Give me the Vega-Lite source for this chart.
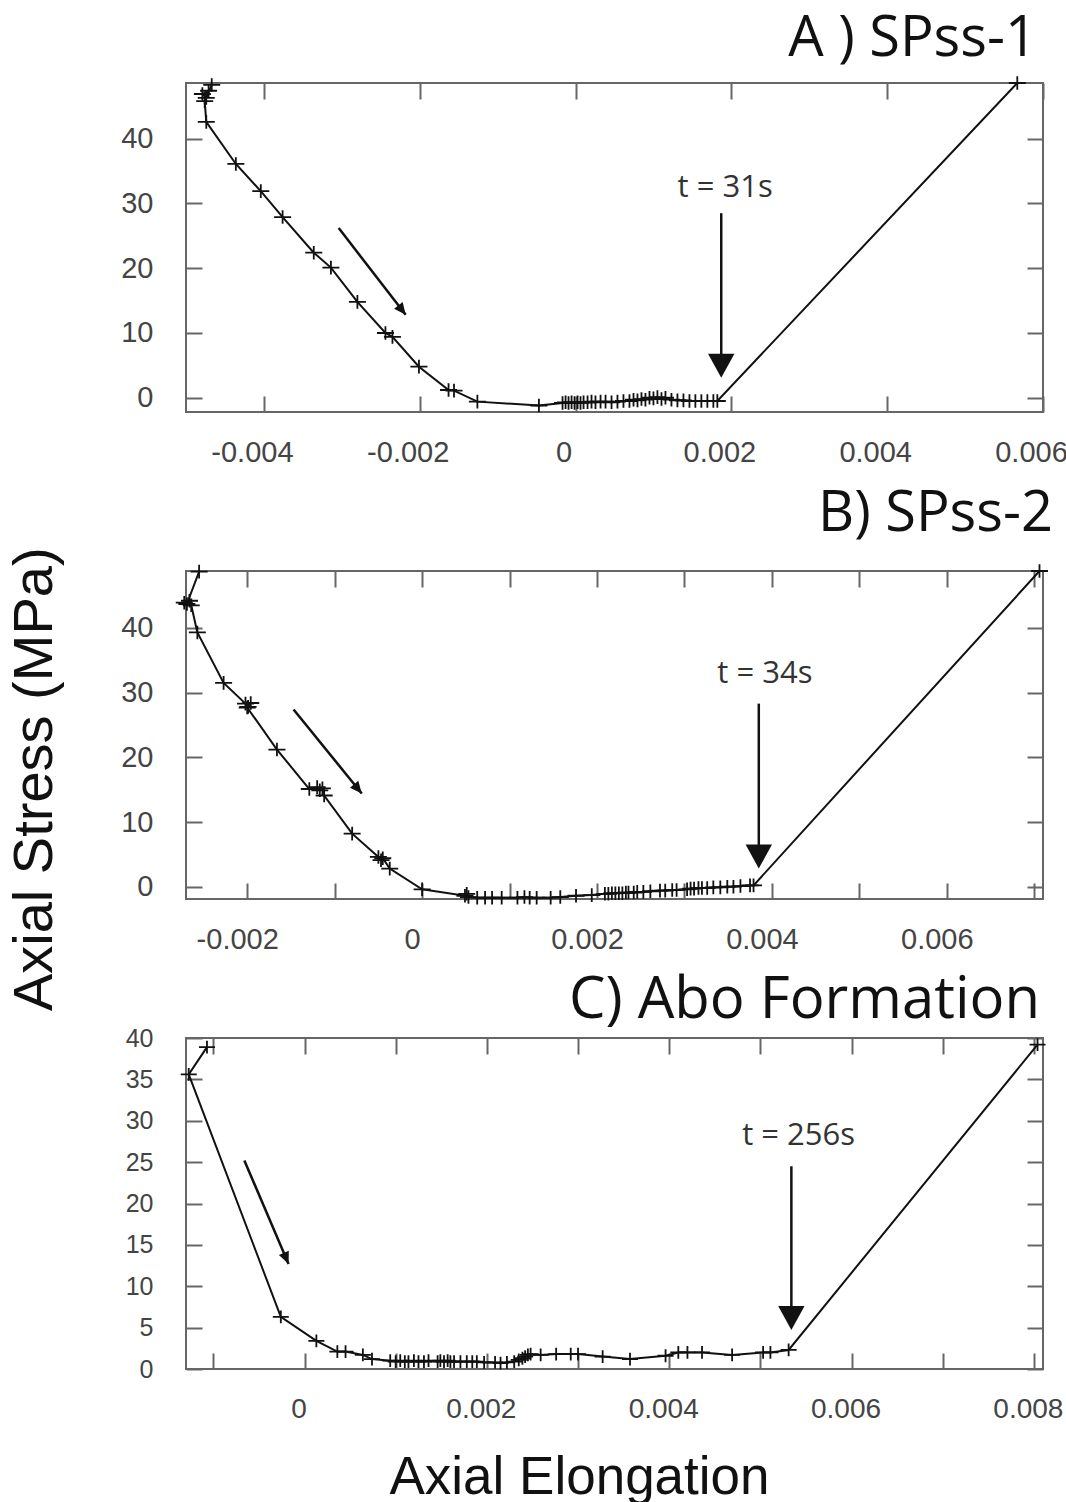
{
  "$schema": "https://vega.github.io/schema/vega-lite/v6.json",
  "background": "white",
  "padding": {"left": 6, "top": 9, "right": 0, "bottom": 0},
  "spacing": 16,
  "title": {"text": "Axial Stress (MPa)", "orient": "left", "anchor": "middle", "frame": "bounds", "font": "Liberation Sans", "fontSize": 56, "fontWeight": "normal", "color": "#111", "offset": 56, "dx": -22},
  "config": {
    "view": {"stroke": "#666", "strokeWidth": 2},
    "axis": {"grid": false, "domain": false, "tickSize": -16, "tickColor": "#666", "tickWidth": 2, "labelFont": "Liberation Sans", "labelFontSize": 29, "labelColor": "#444", "titleFont": "Liberation Sans", "titleFontSize": 53, "titleColor": "#111", "titleFontWeight": "normal"},
    "title": {"font": "Open Sans", "fontSize": 56, "fontWeight": "normal", "anchor": "end", "color": "#111"}
  },
  "datasets": {
    "a": [
      {"i":1,"x":-0.00467,"y":48.3},{"i":2,"x":-0.00474,"y":46.3},{"i":3,"x":-0.00479,"y":46.9},{"i":4,"x":-0.00471,"y":47.4},{"i":5,"x":-0.00476,"y":45.8},{"i":6,"x":-0.00474,"y":42.6},{"i":7,"x":-0.00436,"y":36.1},{"i":8,"x":-0.00404,"y":31.9},{"i":9,"x":-0.00376,"y":27.9},{"i":10,"x":-0.00336,"y":22.4},{"i":11,"x":-0.00314,"y":20.1},{"i":12,"x":-0.0028,"y":14.8},{"i":13,"x":-0.00244,"y":10.0},{"i":14,"x":-0.00235,"y":9.4},{"i":15,"x":-0.00201,"y":4.8},{"i":16,"x":-0.00163,"y":1.2},{"i":17,"x":-0.00156,"y":1.1},{"i":18,"x":-0.00126,"y":-0.6},{"i":19,"x":-0.00047,"y":-1.2},{"i":20,"x":-0.000167,"y":-0.8},{"i":21,"x":-0.000128,"y":-0.7},{"i":22,"x":-0.00009,"y":-0.8},{"i":23,"x":-0.000051,"y":-0.7},{"i":24,"x":-0.000013,"y":-0.8},{"i":25,"x":0.000026,"y":-0.7},{"i":26,"x":0.000064,"y":-0.8},{"i":27,"x":0.000103,"y":-0.7},{"i":28,"x":0.000154,"y":-0.7},{"i":29,"x":0.000205,"y":-0.6},{"i":30,"x":0.000256,"y":-0.7},{"i":31,"x":0.000321,"y":-0.6},{"i":32,"x":0.000385,"y":-0.6},{"i":33,"x":0.000462,"y":-0.7},{"i":34,"x":0.000538,"y":-0.6},{"i":35,"x":0.000615,"y":-0.5},{"i":36,"x":0.000692,"y":-0.5},{"i":37,"x":0.000744,"y":-0.3},{"i":38,"x":0.000795,"y":-0.4},{"i":39,"x":0.000846,"y":-0.2},{"i":40,"x":0.000897,"y":-0.3},{"i":41,"x":0.000949,"y":0.0},{"i":42,"x":0.001,"y":-0.1},{"i":43,"x":0.001051,"y":0.1},{"i":44,"x":0.001103,"y":-0.2},{"i":45,"x":0.001154,"y":0.0},{"i":46,"x":0.001231,"y":-0.3},{"i":47,"x":0.001308,"y":-0.4},{"i":48,"x":0.001385,"y":-0.4},{"i":49,"x":0.001462,"y":-0.5},{"i":50,"x":0.001538,"y":-0.5},{"i":51,"x":0.001615,"y":-0.5},{"i":52,"x":0.001692,"y":-0.5},{"i":53,"x":0.001769,"y":-0.5},{"i":54,"x":0.00182,"y":-0.5},{"i":55,"x":0.00567,"y":48.6}
    ],
    "b": [
      {"i":1,"x":-0.00255,"y":48.7},{"i":2,"x":-0.00269,"y":43.7},{"i":3,"x":-0.00266,"y":44.2},{"i":4,"x":-0.00272,"y":43.9},{"i":5,"x":-0.00264,"y":43.5},{"i":6,"x":-0.00257,"y":39.3},{"i":7,"x":-0.00227,"y":31.5},{"i":8,"x":-0.00202,"y":28.3},{"i":9,"x":-0.00199,"y":27.8},{"i":10,"x":-0.00196,"y":28.4},{"i":11,"x":-0.002,"y":27.7},{"i":12,"x":-0.00166,"y":21.2},{"i":13,"x":-0.00129,"y":15.1},{"i":14,"x":-0.0012,"y":15.4},{"i":15,"x":-0.00117,"y":14.9},{"i":16,"x":-0.00114,"y":15.2},{"i":17,"x":-0.00112,"y":14.1},{"i":18,"x":-0.0008,"y":8.2},{"i":19,"x":-0.0005,"y":4.6},{"i":20,"x":-0.00047,"y":4.1},{"i":21,"x":-0.00045,"y":4.4},{"i":22,"x":-0.00037,"y":2.8},{"i":23,"x":0.0,"y":-0.4},{"i":24,"x":0.00049,"y":-1.4},{"i":25,"x":0.00051,"y":-1.1},{"i":26,"x":0.00053,"y":-1.6},{"i":27,"x":0.00063,"y":-1.7},{"i":28,"x":0.00072,"y":-1.7},{"i":29,"x":0.0008,"y":-1.7},{"i":30,"x":0.00091,"y":-1.7},{"i":31,"x":0.00109,"y":-1.7},{"i":32,"x":0.00117,"y":-1.6},{"i":33,"x":0.00123,"y":-1.7},{"i":34,"x":0.00131,"y":-1.7},{"i":35,"x":0.00147,"y":-1.7},{"i":36,"x":0.00158,"y":-1.6},{"i":37,"x":0.00176,"y":-1.4},{"i":38,"x":0.00194,"y":-1.3},{"i":39,"x":0.00209,"y":-1.1},{"i":40,"x":0.00213,"y":-1.1},{"i":41,"x":0.00217,"y":-1.0},{"i":42,"x":0.00221,"y":-1.0},{"i":43,"x":0.00225,"y":-1.0},{"i":44,"x":0.00229,"y":-1.0},{"i":45,"x":0.00233,"y":-0.9},{"i":46,"x":0.00236,"y":-0.9},{"i":47,"x":0.00242,"y":-0.9},{"i":48,"x":0.00246,"y":-0.8},{"i":49,"x":0.00253,"y":-0.8},{"i":50,"x":0.00261,"y":-0.7},{"i":51,"x":0.00272,"y":-0.6},{"i":52,"x":0.00278,"y":-0.6},{"i":53,"x":0.00286,"y":-0.5},{"i":54,"x":0.00291,"y":-0.5},{"i":55,"x":0.00303,"y":-0.4},{"i":56,"x":0.00307,"y":-0.3},{"i":57,"x":0.00311,"y":-0.3},{"i":58,"x":0.00316,"y":-0.2},{"i":59,"x":0.0032,"y":-0.2},{"i":60,"x":0.00326,"y":-0.2},{"i":61,"x":0.00333,"y":-0.1},{"i":62,"x":0.00341,"y":-0.1},{"i":63,"x":0.00349,"y":0.0},{"i":64,"x":0.00356,"y":0.0},{"i":65,"x":0.00364,"y":0.1},{"i":66,"x":0.00375,"y":0.2},{"i":67,"x":0.00379,"y":0.2},{"i":68,"x":0.00706,"y":48.8}
    ],
    "c": [
      {"i":1,"x":-0.00107,"y":38.9},{"i":2,"x":-0.00127,"y":35.6},{"i":3,"x":-0.00026,"y":6.3},{"i":4,"x":0.00013,"y":3.4},{"i":5,"x":0.00036,"y":2.1},{"i":6,"x":0.00045,"y":2.1},{"i":7,"x":0.00064,"y":1.7},{"i":8,"x":0.00074,"y":1.2},{"i":9,"x":0.00094,"y":1.0},{"i":10,"x":0.001,"y":0.9},{"i":11,"x":0.00105,"y":1.0},{"i":12,"x":0.0011,"y":0.9},{"i":13,"x":0.00114,"y":0.9},{"i":14,"x":0.0012,"y":1.0},{"i":15,"x":0.00125,"y":0.9},{"i":16,"x":0.00131,"y":0.9},{"i":17,"x":0.00136,"y":1.0},{"i":18,"x":0.00146,"y":0.9},{"i":19,"x":0.00149,"y":1.0},{"i":20,"x":0.00153,"y":0.9},{"i":21,"x":0.00157,"y":1.0},{"i":22,"x":0.0016,"y":0.9},{"i":23,"x":0.00164,"y":0.9},{"i":24,"x":0.00171,"y":0.9},{"i":25,"x":0.00178,"y":0.9},{"i":26,"x":0.00184,"y":0.9},{"i":27,"x":0.00189,"y":0.9},{"i":28,"x":0.00197,"y":0.8},{"i":29,"x":0.00209,"y":0.8},{"i":30,"x":0.00215,"y":0.7},{"i":31,"x":0.00222,"y":0.8},{"i":32,"x":0.0023,"y":0.9},{"i":33,"x":0.00235,"y":1.1},{"i":34,"x":0.00239,"y":1.3},{"i":35,"x":0.00242,"y":1.5},{"i":36,"x":0.00245,"y":1.7},{"i":37,"x":0.00248,"y":1.8},{"i":38,"x":0.00259,"y":1.7},{"i":39,"x":0.00276,"y":1.8},{"i":40,"x":0.00292,"y":1.8},{"i":41,"x":0.003,"y":1.8},{"i":42,"x":0.00327,"y":1.5},{"i":43,"x":0.00357,"y":1.2},{"i":44,"x":0.00396,"y":1.6},{"i":45,"x":0.0041,"y":2.0},{"i":46,"x":0.0042,"y":2.0},{"i":47,"x":0.00436,"y":2.0},{"i":48,"x":0.00469,"y":1.7},{"i":49,"x":0.00503,"y":2.0},{"i":50,"x":0.00511,"y":2.0},{"i":51,"x":0.00531,"y":2.3},{"i":52,"x":0.00804,"y":39.2}
    ]
  },
  "vconcat": [
    {
      "width": 857, "height": 329,
      "title": {"text": "A ) SPss-1", "offset": 5, "dx": -6, "frame": "group"},
      "resolve": {"axis": {"x": "independent", "y": "independent"}},
      "layer": [
        {"data": {"name": "a"}, "mark": {"type": "line", "color": "#111", "strokeWidth": 2},
         "encoding": {
           "x": {"field": "x", "type": "quantitative", "scale": {"domain": [-0.005, 0.006], "nice": false, "zero": false}, "axis": {"orient": "bottom", "title": null, "values": [-0.004, -0.002, 0, 0.002, 0.004, 0.006], "labelPadding": 42, "labelOffset": -12, "labelFlush": false, "labelExpr": "datum.value == 0 ? '0' : replace(format(datum.value, '.3f'), '\u2212', '-')"}},
           "y": {"field": "y", "type": "quantitative", "scale": {"domain": [-2.2, 48.6], "nice": false, "zero": false}, "axis": {"orient": "left", "title": null, "values": [0, 10, 20, 30, 40], "labelPadding": 49}},
           "order": {"field": "i", "type": "quantitative"}}},
        {"data": {"name": "a"}, "mark": {"type": "point", "shape": "M-1,0L1,0M0,-0.8L0,0.8", "filled": false, "color": "#111", "strokeWidth": 1.8, "size": 289, "opacity": 1},
         "encoding": {
           "x": {"field": "x", "type": "quantitative", "scale": {"domain": [-0.005, 0.006], "nice": false, "zero": false}, "axis": {"orient": "top", "title": null, "labels": false, "values": [-0.004, -0.002, 0, 0.002, 0.004, 0.006]}},
           "y": {"field": "y", "type": "quantitative", "scale": {"domain": [-2.2, 48.6], "nice": false, "zero": false}, "axis": {"orient": "right", "title": null, "labels": false, "values": [0, 10, 20, 30, 40]}}}},
        {"data": {"values": [{"x": 0.00187, "y": 28.5, "x2": 0.00187, "y2": 6.0}, {"x": -0.00304, "y": 26.2, "x2": -0.00218, "y2": 12.8}]},
         "mark": {"type": "rule", "color": "#111", "strokeWidth": 2.5},
         "encoding": {
           "x": {"field": "x", "type": "quantitative", "scale": {"domain": [-0.005, 0.006], "nice": false, "zero": false}, "axis": null},
           "y": {"field": "y", "type": "quantitative", "scale": {"domain": [-2.2, 48.6], "nice": false, "zero": false}, "axis": null},
           "x2": {"field": "x2"}, "y2": {"field": "y2"}}},
        {"data": {"values": [{"x": 0.00187, "y": 3.1}]},
         "mark": {"type": "point", "shape": "M0,0L-0.55,-1L0.55,-1Z", "filled": true, "color": "#111", "size": 2304, "opacity": 1},
         "encoding": {
           "x": {"field": "x", "type": "quantitative", "scale": {"domain": [-0.005, 0.006], "nice": false, "zero": false}, "axis": null},
           "y": {"field": "y", "type": "quantitative", "scale": {"domain": [-2.2, 48.6], "nice": false, "zero": false}, "axis": null}}},
        {"data": {"values": [{"x": -0.00218, "y": 12.8}]},
         "mark": {"type": "point", "shape": "M0,0L-0.45,-1L0.45,-1Z", "filled": true, "color": "#111", "size": 576, "opacity": 1, "angle": -37.6},
         "encoding": {
           "x": {"field": "x", "type": "quantitative", "scale": {"domain": [-0.005, 0.006], "nice": false, "zero": false}, "axis": null},
           "y": {"field": "y", "type": "quantitative", "scale": {"domain": [-2.2, 48.6], "nice": false, "zero": false}, "axis": null}}},
        {"data": {"values": [{"x": 0.00192, "y": 32.4, "label": "t = 31s"}]},
         "mark": {"type": "text", "font": "Open Sans", "fontSize": 31, "color": "#333", "baseline": "middle", "align": "center"},
         "encoding": {
           "x": {"field": "x", "type": "quantitative", "scale": {"domain": [-0.005, 0.006], "nice": false, "zero": false}, "axis": null},
           "y": {"field": "y", "type": "quantitative", "scale": {"domain": [-2.2, 48.6], "nice": false, "zero": false}, "axis": null},
           "text": {"field": "label"}}}
      ]
    },
    {
      "width": 857, "height": 328,
      "title": {"text": "B) SPss-2", "offset": 18, "dx": 10, "frame": "group"},
      "resolve": {"axis": {"x": "independent", "y": "independent"}},
      "layer": [
        {"data": {"name": "b"}, "mark": {"type": "line", "color": "#111", "strokeWidth": 2},
         "encoding": {
           "x": {"field": "x", "type": "quantitative", "scale": {"domain": [-0.0027, 0.0071], "nice": false, "zero": false}, "axis": {"orient": "bottom", "title": null, "values": [-0.002, -0.001, 0, 0.001, 0.002, 0.003, 0.004, 0.005, 0.006, 0.007], "labelPadding": 42, "labelOffset": -10, "labelExpr": "abs(round(datum.value * 1000)) % 2 == 1 ? '' : datum.value == 0 ? '0' : replace(format(datum.value, '.3f'), '\u2212', '-')"}},
           "y": {"field": "y", "type": "quantitative", "scale": {"domain": [-1.9, 48.8], "nice": false, "zero": false}, "axis": {"orient": "left", "title": null, "values": [0, 10, 20, 30, 40], "labelPadding": 49}},
           "order": {"field": "i", "type": "quantitative"}}},
        {"data": {"name": "b"}, "mark": {"type": "point", "shape": "M-1,0L1,0M0,-0.8L0,0.8", "filled": false, "color": "#111", "strokeWidth": 1.8, "size": 289, "opacity": 1},
         "encoding": {
           "x": {"field": "x", "type": "quantitative", "scale": {"domain": [-0.0027, 0.0071], "nice": false, "zero": false}, "axis": {"orient": "top", "title": null, "labels": false, "values": [-0.002, -0.001, 0, 0.001, 0.002, 0.003, 0.004, 0.005, 0.006, 0.007]}},
           "y": {"field": "y", "type": "quantitative", "scale": {"domain": [-1.9, 48.8], "nice": false, "zero": false}, "axis": {"orient": "right", "title": null, "labels": false, "values": [0, 10, 20, 30, 40]}}}},
        {"data": {"values": [{"x": 0.00385, "y": 28.3, "x2": 0.00385, "y2": 5.8}, {"x": -0.00147, "y": 27.4, "x2": -0.00069, "y2": 14.4}]},
         "mark": {"type": "rule", "color": "#111", "strokeWidth": 2.5},
         "encoding": {
           "x": {"field": "x", "type": "quantitative", "scale": {"domain": [-0.0027, 0.0071], "nice": false, "zero": false}, "axis": null},
           "y": {"field": "y", "type": "quantitative", "scale": {"domain": [-1.9, 48.8], "nice": false, "zero": false}, "axis": null},
           "x2": {"field": "x2"}, "y2": {"field": "y2"}}},
        {"data": {"values": [{"x": 0.00385, "y": 2.8}]},
         "mark": {"type": "point", "shape": "M0,0L-0.55,-1L0.55,-1Z", "filled": true, "color": "#111", "size": 2304, "opacity": 1},
         "encoding": {
           "x": {"field": "x", "type": "quantitative", "scale": {"domain": [-0.0027, 0.0071], "nice": false, "zero": false}, "axis": null},
           "y": {"field": "y", "type": "quantitative", "scale": {"domain": [-1.9, 48.8], "nice": false, "zero": false}, "axis": null}}},
        {"data": {"values": [{"x": -0.00069, "y": 14.4}]},
         "mark": {"type": "point", "shape": "M0,0L-0.45,-1L0.45,-1Z", "filled": true, "color": "#111", "size": 576, "opacity": 1, "angle": -39.4},
         "encoding": {
           "x": {"field": "x", "type": "quantitative", "scale": {"domain": [-0.0027, 0.0071], "nice": false, "zero": false}, "axis": null},
           "y": {"field": "y", "type": "quantitative", "scale": {"domain": [-1.9, 48.8], "nice": false, "zero": false}, "axis": null}}},
        {"data": {"values": [{"x": 0.00392, "y": 32.9, "label": "t = 34s"}]},
         "mark": {"type": "text", "font": "Open Sans", "fontSize": 31, "color": "#333", "baseline": "middle", "align": "center"},
         "encoding": {
           "x": {"field": "x", "type": "quantitative", "scale": {"domain": [-0.0027, 0.0071], "nice": false, "zero": false}, "axis": null},
           "y": {"field": "y", "type": "quantitative", "scale": {"domain": [-1.9, 48.8], "nice": false, "zero": false}, "axis": null},
           "text": {"field": "label"}}}
      ]
    },
    {
      "width": 857, "height": 331,
      "title": {"text": "C) Abo Formation", "offset": -4, "dx": -3, "fontSize": 58, "frame": "group"},
      "resolve": {"axis": {"x": "independent", "y": "independent"}},
      "layer": [
        {"data": {"name": "c"}, "mark": {"type": "line", "color": "#111", "strokeWidth": 2},
         "encoding": {
           "x": {"field": "x", "type": "quantitative", "scale": {"domain": [-0.0013, 0.0081], "nice": false, "zero": false}, "axis": {"orient": "bottom", "title": "Axial Elongation", "values": [-0.001, 0, 0.001, 0.002, 0.003, 0.004, 0.005, 0.006, 0.007, 0.008], "labelPadding": 42, "labelOffset": -6, "labelFontSize": 28, "labelExpr": "abs(round(datum.value * 1000)) % 2 == 1 ? '' : datum.value == 0 ? '0' : replace(format(datum.value, '.3f'), '\u2212', '-')", "titleX": 393, "titleY": 82, "titleBaseline": "top"}},
           "y": {"field": "y", "type": "quantitative", "scale": {"domain": [0, 40], "nice": false, "zero": false}, "axis": {"orient": "left", "title": null, "values": [0, 5, 10, 15, 20, 25, 30, 35, 40], "labelPadding": 49, "labelFontSize": 25}},
           "order": {"field": "i", "type": "quantitative"}}},
        {"data": {"name": "c"}, "mark": {"type": "point", "shape": "M-1,0L1,0M0,-0.8L0,0.8", "filled": false, "color": "#111", "strokeWidth": 1.8, "size": 256, "opacity": 1},
         "encoding": {
           "x": {"field": "x", "type": "quantitative", "scale": {"domain": [-0.0013, 0.0081], "nice": false, "zero": false}, "axis": {"orient": "top", "title": null, "labels": false, "values": [-0.001, 0, 0.001, 0.002, 0.003, 0.004, 0.005, 0.006, 0.007, 0.008]}},
           "y": {"field": "y", "type": "quantitative", "scale": {"domain": [0, 40], "nice": false, "zero": false}, "axis": {"orient": "right", "title": null, "labels": false, "values": [0, 5, 10, 15, 20, 25, 30, 35, 40]}}}},
        {"data": {"values": [{"x": 0.00534, "y": 24.5, "x2": 0.00534, "y2": 6.8}, {"x": -0.00066, "y": 25.2, "x2": -0.000175, "y2": 12.7}]},
         "mark": {"type": "rule", "color": "#111", "strokeWidth": 2.5},
         "encoding": {
           "x": {"field": "x", "type": "quantitative", "scale": {"domain": [-0.0013, 0.0081], "nice": false, "zero": false}, "axis": null},
           "y": {"field": "y", "type": "quantitative", "scale": {"domain": [0, 40], "nice": false, "zero": false}, "axis": null},
           "x2": {"field": "x2"}, "y2": {"field": "y2"}}},
        {"data": {"values": [{"x": 0.00534, "y": 4.7}]},
         "mark": {"type": "point", "shape": "M0,0L-0.55,-1L0.55,-1Z", "filled": true, "color": "#111", "size": 2304, "opacity": 1},
         "encoding": {
           "x": {"field": "x", "type": "quantitative", "scale": {"domain": [-0.0013, 0.0081], "nice": false, "zero": false}, "axis": null},
           "y": {"field": "y", "type": "quantitative", "scale": {"domain": [0, 40], "nice": false, "zero": false}, "axis": null}}},
        {"data": {"values": [{"x": -0.000175, "y": 12.7}]},
         "mark": {"type": "point", "shape": "M0,0L-0.45,-1L0.45,-1Z", "filled": true, "color": "#111", "size": 576, "opacity": 1, "angle": -23.1},
         "encoding": {
           "x": {"field": "x", "type": "quantitative", "scale": {"domain": [-0.0013, 0.0081], "nice": false, "zero": false}, "axis": null},
           "y": {"field": "y", "type": "quantitative", "scale": {"domain": [0, 40], "nice": false, "zero": false}, "axis": null}}},
        {"data": {"values": [{"x": 0.00542, "y": 28.1, "label": "t = 256s"}]},
         "mark": {"type": "text", "font": "Open Sans", "fontSize": 31, "color": "#333", "baseline": "middle", "align": "center"},
         "encoding": {
           "x": {"field": "x", "type": "quantitative", "scale": {"domain": [-0.0013, 0.0081], "nice": false, "zero": false}, "axis": null},
           "y": {"field": "y", "type": "quantitative", "scale": {"domain": [0, 40], "nice": false, "zero": false}, "axis": null},
           "text": {"field": "label"}}}
      ]
    }
  ]
}
